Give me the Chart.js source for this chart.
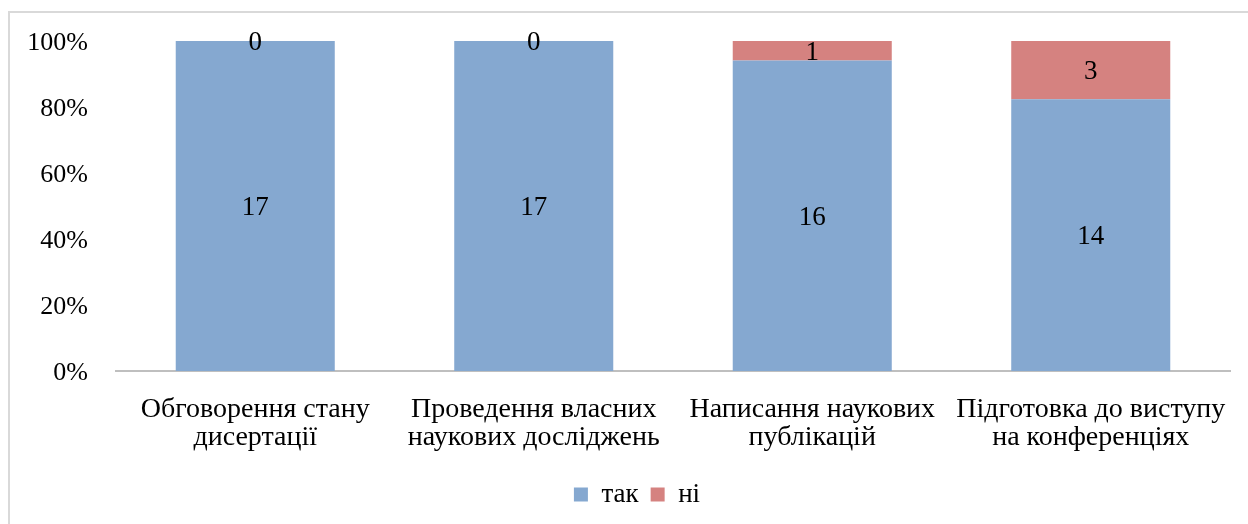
<!DOCTYPE html>
<html>
<head>
<meta charset="utf-8">
<script src="https://cdn.jsdelivr.net/npm/chart.js@4/dist/chart.umd.min.js"></script>
<style>
  html, body { margin: 0; padding: 0; background: #fff; overflow: hidden; }
  #frame { position: absolute; left: 8px; top: 11px; width: 1300px; height: 600px;
           border-left: 2px solid #D9D9D9; border-top: 2px solid #D9D9D9; }
  #wrap { position: absolute; left: 0; top: 0; width: 1248px; height: 524px; }
</style>
</head>
<body>
<div id="frame"></div>
<div id="wrap"><canvas id="chart" width="1248" height="524"></canvas></div>
<script>
const categories = [
  ['Обговорення стану', 'дисертації'],
  ['Проведення власних', 'наукових досліджень'],
  ['Написання наукових', 'публікацій'],
  ['Підготовка до виступу', 'на конференціях']
];
const yesCounts = [17, 17, 16, 14];
const noCounts = [0, 0, 1, 3];
const seriesNames = ['так', 'ні'];

const totals = yesCounts.map((v, i) => v + noCounts[i]);
const yesPct = yesCounts.map((v, i) => v / totals[i] * 100);
const noPct = noCounts.map((v, i) => v / totals[i] * 100);

const FONT = '"Liberation Serif", "Times New Roman", serif';

// draws the raw counts in the middle of each bar segment
const countLabels = {
  id: 'countLabels',
  afterDatasetsDraw(chart) {
    const ctx = chart.ctx;
    ctx.save();
    ctx.font = '27px ' + FONT;
    ctx.fillStyle = '#000';
    ctx.textAlign = 'center';
    ctx.textBaseline = 'middle';
    chart.data.datasets.forEach((ds, di) => {
      chart.getDatasetMeta(di).data.forEach((bar, i) => {
        const mid = (bar.y + bar.base) / 2 + 2;
        ctx.fillText(String(ds.counts[i]), bar.x, mid);
      });
    });
    ctx.restore();
  }
};

// nudge the legend a little to the right, like the original
const legendShift = {
  id: 'legendShift',
  afterLayout(chart) {
    chart.legend.left += 22;
    chart.legend.right += 22;
  }
};

new Chart(document.getElementById('chart'), {
  type: 'bar',
  data: {
    labels: categories,
    datasets: [{
      label: seriesNames[0],
      data: yesPct,
      counts: yesCounts,
      backgroundColor: 'rgb(133, 168, 208)'
    }, {
      label: seriesNames[1],
      data: noPct,
      counts: noCounts,
      backgroundColor: 'rgb(213, 130, 128)'
    }]
  },
  options: {
    responsive: false,
    animation: false,
    layout: { padding: { top: 41, right: 18, left: 0, bottom: 6 } },
    datasets: { bar: { categoryPercentage: 1, barPercentage: 0.571 } },
    plugins: {
      tooltip: { enabled: false },
      legend: {
        position: 'bottom',
        labels: {
          color: '#000',
          font: { family: FONT, size: 27 },
          boxWidth: 14,
          boxHeight: 14,
          padding: 12
        }
      }
    },
    scales: {
      x: {
        stacked: true,
        grid: { display: false, drawTicks: false },
        border: { color: '#BFBFBF', width: 2 },
        ticks: {
          color: '#000',
          padding: 25,
          maxRotation: 0,
          autoSkip: false,
          font: { family: FONT, size: 28, lineHeight: 1 }
        },
        afterFit(scale) {
          scale.height = 98;
          scale.paddingLeft = 0;
          scale.paddingRight = 0;
        }
      },
      y: {
        stacked: true,
        min: 0,
        max: 100,
        grid: { display: false, drawTicks: false },
        border: { display: false },
        ticks: {
          stepSize: 20,
          color: '#000',
          padding: 28,
          labelOffset: 2,
          font: { family: FONT, size: 26 },
          callback: v => v + '%'
        },
        afterFit(scale) {
          scale.width = 116;
          scale.paddingTop = 0;
          scale.paddingBottom = 0;
        }
      }
    }
  },
  plugins: [countLabels, legendShift]
});
</script>
</body>
</html>
